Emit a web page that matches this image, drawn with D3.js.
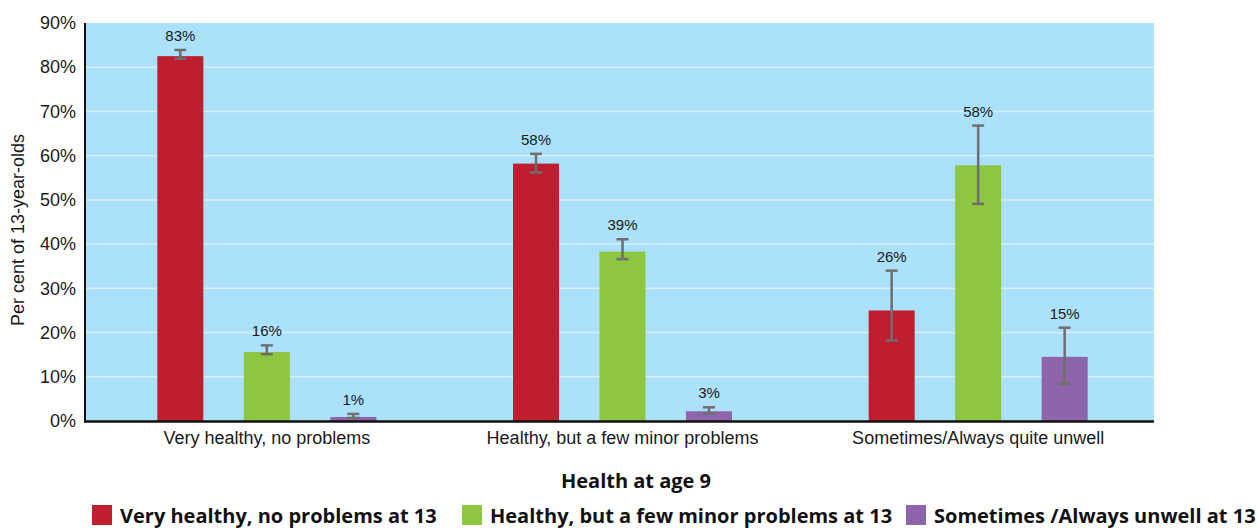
<!DOCTYPE html>
<html>
<head>
<meta charset="utf-8">
<script src="https://cdn.jsdelivr.net/npm/d3@7"></script>
<style>
  body { margin: 0; background: #fff; }
  svg { display: block; }
</style>
</head>
<body>
<svg id="fig_health" width="1257" height="528"></svg>
<script>

// health at age 9 (groups)
var groups = ['Very healthy, no problems', 'Healthy, but a few minor problems', 'Sometimes/Always quite unwell'];

// health at 13 (series)
var series = ['Very healthy, no problems at 13', 'Healthy, but a few minor problems at 13', 'Sometimes /Always unwell at 13'];
var colors = ['#be1e2d', '#8dc63f', '#8e65aa'];

// bar heights, per cent of 13-year-olds
var very_healthy  = [82.5, 58.2, 25.0];
var minor_probs   = [15.6, 38.3, 57.8];
var unwell        = [0.9, 2.2, 14.5];

// error bar ends
var very_healthy_lo = [81.9, 56.2, 18.2];
var very_healthy_hi = [83.9, 60.4, 34.0];
var minor_probs_lo  = [15.1, 36.6, 49.1];
var minor_probs_hi  = [17.1, 41.1, 66.8];
var unwell_lo       = [0.7, 1.7, 8.4];
var unwell_hi       = [1.6, 3.1, 21.1];

// printed labels
var very_healthy_lbl = ['83%', '58%', '26%'];
var minor_probs_lbl  = ['16%', '39%', '58%'];
var unwell_lbl       = ['1%', '3%', '15%'];

var y_ticks = [0, 10, 20, 30, 40, 50, 60, 70, 80, 90];


function draw_health_fig(){

    var svg = d3.select('#fig_health');
    svg.selectAll('*').remove();

    var left = 86, right = 1154, top = 23, bottom = 421;

    var vals = [very_healthy, minor_probs, unwell];
    var los  = [very_healthy_lo, minor_probs_lo, unwell_lo];
    var his  = [very_healthy_hi, minor_probs_hi, unwell_hi];
    var lbls = [very_healthy_lbl, minor_probs_lbl, unwell_lbl];

    var rows = [];
    for( var i = 0; i < groups.length; i++ ){
        for( var j = 0; j < series.length; j++ ){
            rows.push({ g: groups[i], s: series[j], c: colors[j], v: vals[j][i], lo: los[j][i], hi: his[j][i], lbl: lbls[j][i] });
        }
    }

    var y = d3.scaleLinear().domain([0, 90]).range([bottom, top]);
    var x0 = d3.scaleBand().domain(groups).range([89, 1156]);
    var x1 = d3.scaleBand().domain(series).range([0, x0.bandwidth()]).paddingInner(0.468).paddingOuter(0.79);

    // plot background
    svg.append('rect')
        .attr('x', left).attr('y', top)
        .attr('width', right - left).attr('height', bottom - top)
        .attr('fill', '#abe1fa');

    svg.append('g').selectAll('line')
        .data(y_ticks.filter(function(d){ return d > 0 && d < 90; }))
        .join('line')
        .attr('x1', left).attr('x2', right)
        .attr('y1', function(d){ return y(d); }).attr('y2', function(d){ return y(d); })
        .attr('stroke', '#d6f0fc').attr('stroke-width', 1.5);

    // y axis labels
    var yaxis = svg.append('g').attr('transform', 'translate(' + left + ',0)')
        .call(d3.axisLeft(y).tickValues(y_ticks).tickSize(0).tickPadding(10).tickFormat(function(d){ return d + '%'; }));
    yaxis.select('.domain').remove();
    yaxis.selectAll('text')
        .attr('font-family', 'Liberation Sans, Arial, sans-serif')
        .attr('font-size', '18px').attr('fill', '#1a1a1a');

    // bars
    svg.append('g').selectAll('rect')
        .data(rows).join('rect')
        .attr('x', function(d){ return x0(d.g) + x1(d.s); })
        .attr('y', function(d){ return y(d.v); })
        .attr('width', x1.bandwidth())
        .attr('height', function(d){ return y(0) - y(d.v); })
        .attr('fill', function(d){ return d.c; });

    // error bars
    var err = svg.append('g').attr('stroke', '#6e6e6e').attr('stroke-width', 2.5);
    var cx = function(d){ return x0(d.g) + x1(d.s) + x1.bandwidth() / 2; };
    err.selectAll('line.v').data(rows).join('line').attr('class', 'v')
        .attr('x1', cx).attr('x2', cx)
        .attr('y1', function(d){ return y(d.lo); }).attr('y2', function(d){ return y(d.hi); });
    err.selectAll('line.t').data(rows).join('line').attr('class', 't')
        .attr('x1', function(d){ return cx(d) - 6; }).attr('x2', function(d){ return cx(d) + 6; })
        .attr('y1', function(d){ return y(d.hi); }).attr('y2', function(d){ return y(d.hi); });
    err.selectAll('line.b').data(rows).join('line').attr('class', 'b')
        .attr('x1', function(d){ return cx(d) - 6; }).attr('x2', function(d){ return cx(d) + 6; })
        .attr('y1', function(d){ return y(d.lo); }).attr('y2', function(d){ return y(d.lo); });

    // value labels
    svg.append('g').selectAll('text')
        .data(rows).join('text')
        .attr('x', cx)
        .attr('y', function(d){ return y(d.hi) - 9; })
        .attr('text-anchor', 'middle')
        .attr('font-family', 'Liberation Sans, Arial, sans-serif')
        .attr('font-size', '15px').attr('fill', '#1a1a1a')
        .text(function(d){ return d.lbl; });

    // axis lines
    svg.append('line').attr('x1', left - 1).attr('x2', left - 1).attr('y1', top).attr('y2', bottom + 1.5)
        .attr('stroke', '#111').attr('stroke-width', 2);
    svg.append('line').attr('x1', left - 2).attr('x2', right).attr('y1', bottom + 0.5).attr('y2', bottom + 0.5)
        .attr('stroke', '#111').attr('stroke-width', 2.5);

    // x axis labels
    var xaxis = svg.append('g').attr('transform', 'translate(0,' + bottom + ')')
        .call(d3.axisBottom(x0).tickSize(0).tickPadding(10));
    xaxis.select('.domain').remove();
    xaxis.selectAll('text')
        .attr('font-family', 'Liberation Sans, Arial, sans-serif')
        .attr('font-size', '18px').attr('fill', '#1a1a1a');

    svg.append('text')
        .attr('transform', 'translate(24,' + ((top + bottom) / 2 + 8) + ') rotate(-90)')
        .attr('text-anchor', 'middle')
        .attr('font-family', 'Liberation Sans, Arial, sans-serif')
        .attr('font-size', '18px').attr('fill', '#1a1a1a')
        .text('Per cent of 13-year-olds');

    svg.append('text')
        .attr('x', 636).attr('y', 488)
        .attr('text-anchor', 'middle')
        .attr('font-family', 'Open Sans, sans-serif').attr('font-weight', 700)
        .attr('font-size', '20px').attr('fill', '#111')
        .text('Health at age 9');

    // legend
    var leg_x = [92, 462, 906];
    var leg = svg.append('g').selectAll('g')
        .data(series).join('g')
        .attr('transform', function(d, i){ return 'translate(' + leg_x[i] + ',505)'; });
    leg.append('rect').attr('width', 20).attr('height', 20)
        .attr('fill', function(d, i){ return colors[i]; });
    leg.append('text')
        .attr('x', 28).attr('y', 18)
        .attr('font-family', 'Open Sans, sans-serif').attr('font-weight', 700)
        .attr('font-size', '20px').attr('fill', '#111')
        .text(function(d){ return d; });
}

draw_health_fig();

</script>
</body>
</html>
